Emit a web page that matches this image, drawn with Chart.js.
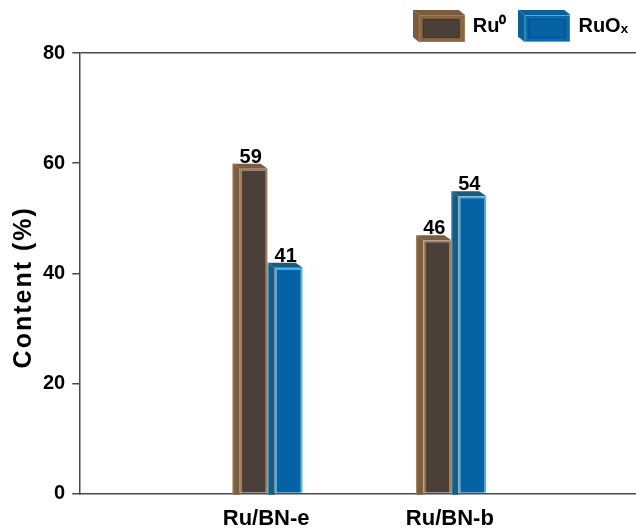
<!DOCTYPE html>
<html>
<head>
<meta charset="utf-8">
<script src="https://cdn.jsdelivr.net/npm/chart.js@4.4.1/dist/chart.umd.min.js"></script>
<style>
  html, body { margin: 0; padding: 0; background: #fff; }
  #wrap { width: 636px; height: 529px; }
</style>
</head>
<body>
<div id="wrap"><canvas id="c"></canvas></div>
<script>
// Ru species content for the two catalysts
const categories = ['Ru/BN-e', 'Ru/BN-b'];
const ru0Values = [59, 46];
const ruOxValues = [41, 54];
const seriesNames = ['Ru\u2070', 'RuO\u2093'];
const yTicks = [0, 20, 40, 60, 80];
const yTitle = 'Content (%)';

const FONT = "'Liberation Sans', Arial, Helvetica, sans-serif";
Chart.defaults.font.family = FONT;
const axisColor = '#4a4a4a';

// face colours of the extruded bars
const palette = [
  { front: '#4a4039', side: '#7b5d3f', edge: '#a47d55' },
  { front: '#0563a5', side: '#1d5b7d', edge: '#40b2e8' }
];
const DEPTH_X = 7, DEPTH_Y = 5;

// small 3D box icons for the legend
function makeIcon(p) {
  const w = 52, h = 32, dx = 6, dy = 5;
  const cv = document.createElement('canvas');
  cv.width = w; cv.height = h;
  const g = cv.getContext('2d');
  const fw = w - dx, fh = h - dy;
  g.fillStyle = p.side;
  g.beginPath();
  g.moveTo(dx, dy); g.lineTo(w, dy); g.lineTo(w - dx, 0); g.lineTo(0, 0); g.closePath();
  g.fill();
  g.beginPath();
  g.moveTo(dx, dy); g.lineTo(0, 0); g.lineTo(0, fh); g.lineTo(dx, h); g.closePath();
  g.fill();
  g.fillStyle = p.frame;
  g.fillRect(dx, dy, fw, fh);
  g.strokeStyle = p.edge; g.lineWidth = 1;
  g.strokeRect(dx + 0.5, dy + 0.5, fw - 1, fh - 1);
  g.fillStyle = p.front;
  g.fillRect(dx + 4, dy + 4, fw - 9, fh - 8);
  g.strokeStyle = p.inner;
  g.strokeRect(dx + 4.5, dy + 4.5, fw - 10, fh - 9);
  return cv;
}
const icons = [
  makeIcon({ front: '#4a4039', side: '#7a5b3d', frame: '#86653f', edge: '#a47d55', inner: '#3b332d' }),
  makeIcon({ front: '#0563a5', side: '#0d5f98', frame: '#0a68ad', edge: '#40b2e8', inner: '#0b4470' })
];

// side and top faces drawn behind each bar's front face
const depthFaces = {
  id: 'depthFaces',
  beforeDatasetsDraw(chart) {
    const ctx = chart.ctx;
    ctx.save();
    chart.data.datasets.forEach((ds, di) => {
      const meta = chart.getDatasetMeta(di);
      const p = palette[di];
      meta.data.forEach(bar => {
        const { x, y, base, width } = bar.getProps(['x', 'y', 'base', 'width'], true);
        const l = x - width / 2, r = x + width / 2;
        ctx.fillStyle = p.side;
        ctx.beginPath();
        ctx.moveTo(l, y); ctx.lineTo(r, y);
        ctx.lineTo(r - DEPTH_X, y - DEPTH_Y); ctx.lineTo(l - DEPTH_X, y - DEPTH_Y);
        ctx.closePath(); ctx.fill();
        ctx.beginPath();
        ctx.moveTo(l, y); ctx.lineTo(l - DEPTH_X, y - DEPTH_Y);
        ctx.lineTo(l - DEPTH_X, base + 2); ctx.lineTo(l, base + 2);
        ctx.closePath(); ctx.fill();
        ctx.strokeStyle = p.edge; ctx.lineWidth = 1;
        ctx.beginPath();
        ctx.moveTo(l - DEPTH_X + 0.5, y - DEPTH_Y); ctx.lineTo(l - DEPTH_X + 0.5, base + 2);
        ctx.stroke();
      });
    });
    ctx.restore();
  }
};

// value printed above each bar
const valueLabels = {
  id: 'valueLabels',
  afterDatasetsDraw(chart) {
    const ctx = chart.ctx;
    ctx.save();
    ctx.font = 'bold 20px ' + FONT;
    ctx.fillStyle = '#000';
    ctx.textAlign = 'center';
    ctx.textBaseline = 'alphabetic';
    chart.data.datasets.forEach((ds, di) => {
      chart.getDatasetMeta(di).data.forEach((bar, i) => {
        const { x, y } = bar.getProps(['x', 'y'], true);
        ctx.fillText(String(ds.data[i].y), x - 3, y - 6);
      });
    });
    ctx.restore();
  }
};

// widely spaced vertical title of the value axis
const valueAxisTitle = {
  id: 'valueAxisTitle',
  afterDraw(chart) {
    const ctx = chart.ctx;
    const ys = chart.scales.y;
    ctx.save();
    ctx.translate(24, (ys.top + ys.bottom) / 2 + 14);
    ctx.rotate(-Math.PI / 2);
    ctx.font = 'bold 25px ' + FONT;
    ctx.letterSpacing = '2px';
    ctx.fillStyle = '#000';
    ctx.textAlign = 'center';
    ctx.textBaseline = 'middle';
    ctx.fillText(yTitle, 0, 0);
    ctx.restore();
  }
};

new Chart(document.getElementById('c'), {
  type: 'bar',
  data: {
    datasets: [
      {
        label: seriesNames[0],
        data: ru0Values.map((v, i) => ({ x: i, y: v })),
        backgroundColor: palette[0].front,
        borderColor: palette[0].edge,
        borderWidth: 2,
        borderSkipped: 'bottom'
      },
      {
        label: seriesNames[1],
        data: ruOxValues.map((v, i) => ({ x: i, y: v })),
        backgroundColor: palette[1].front,
        borderColor: palette[1].edge,
        borderWidth: 2,
        borderSkipped: 'bottom'
      }
    ]
  },
  options: {
    responsive: true,
    maintainAspectRatio: false,
    animation: false,
    layout: { padding: { top: 2, right: -6, left: 36, bottom: -15 } },
    datasets: { bar: { categoryPercentage: 0.381, barPercentage: 0.8 } },
    plugins: {
      tooltip: { enabled: false },
      // empty spacer between the legend row and the plot frame
      title: { display: true, text: '', weight: 500, padding: 0, font: { size: 7, lineHeight: 1 } },
      legend: {
        position: 'top',
        align: 'end',
        labels: {
          usePointStyle: true,
          pointStyleWidth: 48,
          boxHeight: 20,
          padding: 14,
          color: '#000',
          font: { size: 20, weight: 'bold' },
          generateLabels: () => seriesNames.map((n, i) => ({
            text: n, pointStyle: icons[i], datasetIndex: i, hidden: false,
            fillStyle: palette[i].front, strokeStyle: palette[i].edge, lineWidth: 0
          }))
        }
      }
    },
    scales: {
      x: {
        type: 'linear',
        min: -1.0395,
        max: 1.9864,
        offset: false,
        afterBuildTicks: s => { s.ticks = categories.map((_, i) => ({ value: i })); },
        grid: { display: false, drawTicks: false },
        border: { display: true, color: axisColor, width: 1.5 },
        ticks: {
          callback: v => categories[v] ?? '',
          color: '#000',
          font: { size: 22, weight: 'bold' },
          padding: 12,
          labelOffset: -5,
          maxRotation: 0,
          autoSkip: false
        }
      },
      y: {
        min: 0,
        max: 80,
        afterBuildTicks: s => { s.ticks = yTicks.map(v => ({ value: v })); },
        grid: {
          color: c => (c.tick && c.tick.value === 80 ? axisColor : 'rgba(0,0,0,0)'),
          tickColor: axisColor,
          tickLength: 8,
          lineWidth: 1.5
        },
        border: { display: true, color: axisColor, width: 1.5 },
        ticks: { color: '#000', font: { size: 20, weight: 'bold' }, padding: 7 }
      }
    }
  },
  plugins: [depthFaces, valueLabels, valueAxisTitle]
});
</script>
</body>
</html>
